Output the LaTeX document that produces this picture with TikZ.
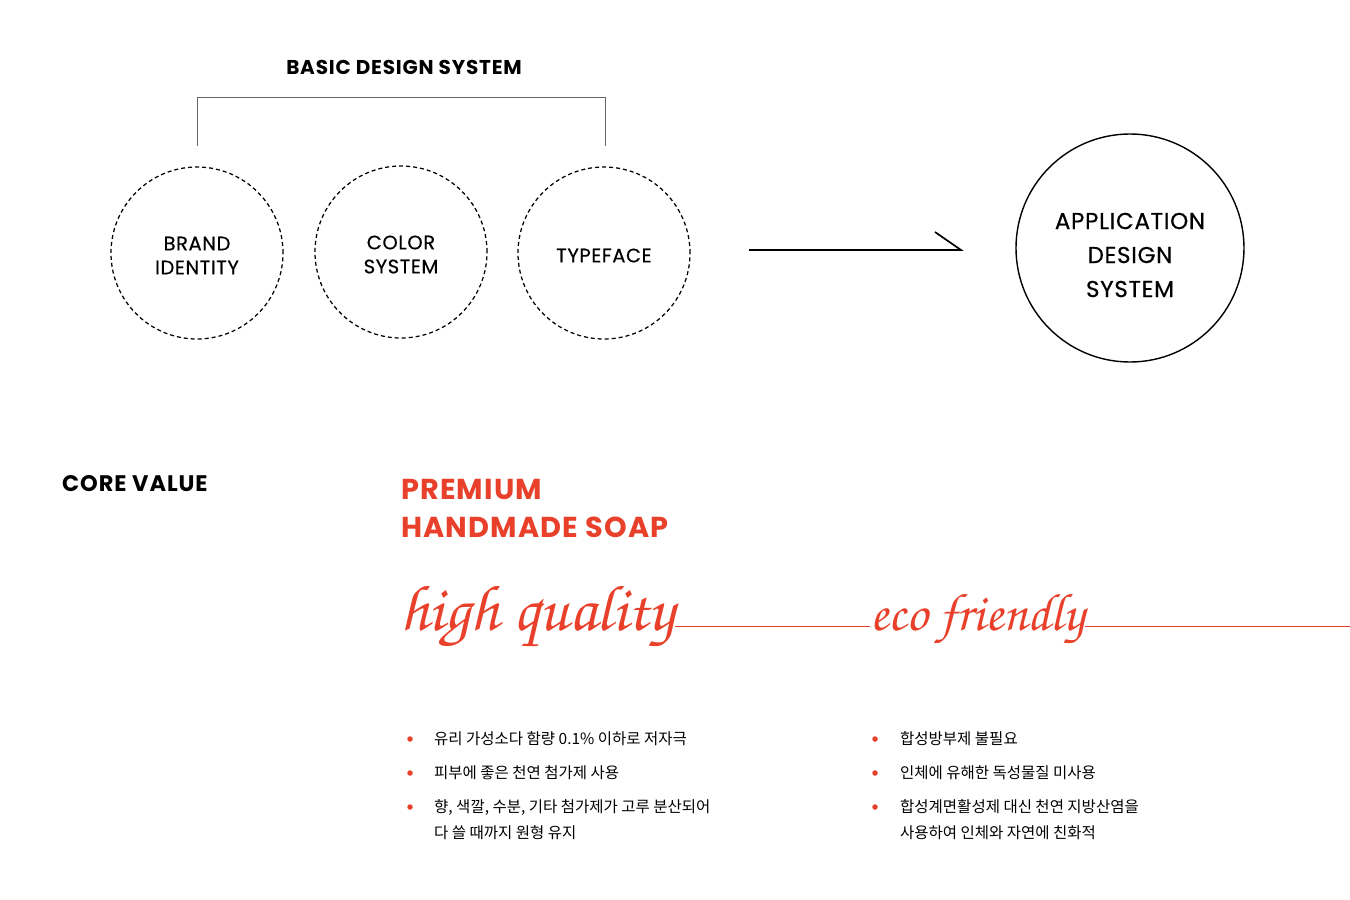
\documentclass[tikz,border=0pt]{standalone}
\usepackage[T1]{fontenc}
\usepackage{fontspec}
\setmainfont{Poppins}[LetterSpace=4]
\newfontfamily\popmed{Poppins}[LetterSpace=3,FakeBold=0.5]
\newfontfamily\kr{Noto Sans CJK KR}
\newcommand\scriptfam{\fontencoding{T1}\fontfamily{pzc}\fontseries{mb}\fontshape{it}\selectfont}
\definecolor{accent}{HTML}{E8402A}
\definecolor{brk}{HTML}{666666}
\tikzset{
  dcirc/.style={draw, circle, dash pattern=on 4pt off 3pt, line width=1.25pt, minimum size=172pt, inner sep=0pt},
  ctext/.style={align=center, inner sep=0pt, font=\fontsize{19.5}{24}\popmed},
  bigcirc/.style={draw, circle, line width=1.4pt, minimum size=228pt, inner sep=0pt},
  btext/.style={align=center, inner sep=0pt, font=\fontsize{23}{34}\popmed},
  head/.style={font=\fontsize{20}{22}\selectfont\bfseries, inner sep=0pt},
  corehead/.style={font=\fontsize{22.5}{24}\selectfont\bfseries, inner sep=0pt},
  redhead/.style={font=\fontsize{28.8}{38}\selectfont\bfseries, text=accent, inner sep=0pt, align=left},
  scr/.style={text=accent, inner sep=0pt},
  bul/.style={circle, fill=accent, minimum size=5.5pt, inner sep=0pt},
  ktxt/.style={font=\fontsize{15.5}{26}\kr, inner sep=0pt, align=left, anchor=west},
  redline/.style={draw=accent, line width=0.8pt},
}
\begin{document}
\begin{tikzpicture}[x=1pt,y=-1pt]
\useasboundingbox (0,0) rectangle (1350,900);
% top heading and bracket
\node[head] (bds) at (404,67) {BASIC DESIGN SYSTEM};
\coordinate (bl) at (197,146);
\coordinate (br) at (605,146);
\draw[brk, line width=1pt] (bl) -- (bl |- 0,97) -- (br |- 0,97) -- (br);
% dashed circles
\node[dcirc] (brand) at (197,253) {};
\node[dcirc] (color) at (401,252) {};
\node[dcirc] (type) at (604,253) {};
\node[ctext] (brandt) at ([yshift=-2.5pt]brand.center) {BRAND\\IDENTITY};
\node[ctext] (colort) at ([yshift=-2.5pt]color.center) {COLOR\\SYSTEM};
\node[ctext] (typet) at ([yshift=-2.5pt]type.center) {TYPEFACE};
% arrow
\coordinate (as) at (749,250);
\coordinate (ae) at (961,250);
\coordinate (ah) at (935,232);
\draw[line width=1.7pt] (as) -- (ae) -- (ah);
% application circle
\node[bigcirc] (app) at (1130,248) {};
\node[btext] (appt) at ([yshift=-7pt]app.center) {APPLICATION\\DESIGN\\SYSTEM};
% core value
\node[corehead, anchor=west] (core) at (62,484) {CORE VALUE};
\node[redhead, anchor=west] (prem) at (401,508) {PREMIUM\\HANDMADE SOAP};
% script words with line
\node[scr, font=\fontsize{65}{65}\scriptfam, anchor=base west] (hq) at (400,630) {high quality};
\node[scr, font=\fontsize{53}{53}\scriptfam, anchor=base west] (ef) at (870,630) {eco friendly};
\coordinate (lend) at (1350,626);
\draw[redline] (hq.east |- lend) -- (ef.west |- lend);
\draw[redline] (ef.east |- lend) -- (lend);
% bullets left
\node[bul] (b1) at (410,739) {};
\node[bul] (b2) at (410,773) {};
\node[bul] (b3) at (410,807) {};
\node[ktxt] (t1) at (434,739) {유리 가성소다 함량 0.1\% 이하로 저자극};
\node[ktxt] (t2) at (434,773) {피부에 좋은 천연 첨가제 사용};
\node[ktxt] (t3) at (434,820) {향, 색깔, 수분, 기타 첨가제가 고루 분산되어\\다 쓸 때까지 원형 유지};
% bullets right
\node[bul] (c1) at (875,739) {};
\node[bul] (c2) at (875,773) {};
\node[bul] (c3) at (875,807) {};
\node[ktxt] (u1) at (900,739) {합성방부제 불필요};
\node[ktxt] (u2) at (900,773) {인체에 유해한 독성물질 미사용};
\node[ktxt] (u3) at (900,820) {합성계면활성제 대신 천연 지방산염을\\사용하여 인체와 자연에 친화적};
\end{tikzpicture}
\end{document}
